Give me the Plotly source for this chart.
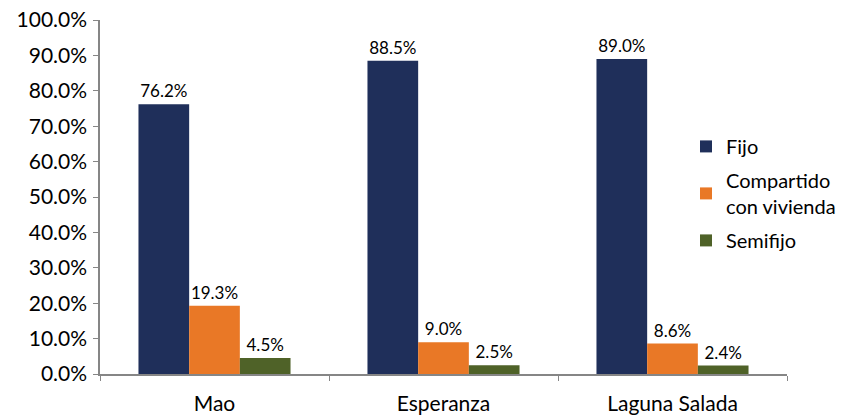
import plotly.graph_objects as go

categories = ["Mao", "Esperanza", "Laguna Salada"]
fijo = [76.2, 88.5, 89.0]
compartido = [19.3, 9.0, 8.6]
semifijo = [4.5, 2.5, 2.4]
series_names = ["Fijo", "Compartido<br>con vivienda", "Semifijo"]
colors = ["#1F2F5A", "#E97826", "#4F6228"]

fig = go.Figure()
for i, (name, vals, col) in enumerate(zip(series_names, [fijo, compartido, semifijo], colors)):
    fig.add_trace(go.Bar(
        x=categories, y=vals, name=name, marker_color=col,
        marker_line_width=0, legendgroup=f"g{i}",
        texttemplate="%{y:.1f}%", textposition="outside",
        textfont=dict(size=17, color="#000000"), cliponaxis=False,
    ))

fig.update_layout(
    width=862, height=417,
    margin=dict(l=100, r=75, t=20, b=43),
    paper_bgcolor="white", plot_bgcolor="white",
    font=dict(family="Lato, Open Sans, sans-serif", color="#000000"),
    barmode="group", bargap=0.336, bargroupgap=0,
    legend=dict(x=0.853, y=0.698, xanchor="left", yanchor="top",
                font=dict(size=20), bgcolor="rgba(0,0,0,0)",
                itemsizing="constant", tracegroupgap=5),
    showlegend=True,
)
fig.update_yaxes(range=[0, 100], dtick=10, tickformat=".1f", ticksuffix="%",
                 showgrid=False, zeroline=False, showline=True,
                 linecolor="#868686", linewidth=1.5,
                 ticks="outside", ticklen=5, tickcolor="#868686",
                 tickfont=dict(size=21), automargin=False, ticklabelstandoff=2,
                 ticklabeloverflow="allow")
fig.update_xaxes(showgrid=False, showline=True, linecolor="#868686", linewidth=1.5,
                 ticks="outside", ticklen=5, tickcolor="#868686",
                 tickson="boundaries", tickfont=dict(size=21), automargin=False,
                 ticklabelstandoff=10, ticklabeloverflow="allow")

fig.write_html("out.html", config={"displayModeBar": False},
               post_script="document.body.style.margin='0';document.body.style.overflow='hidden';")
